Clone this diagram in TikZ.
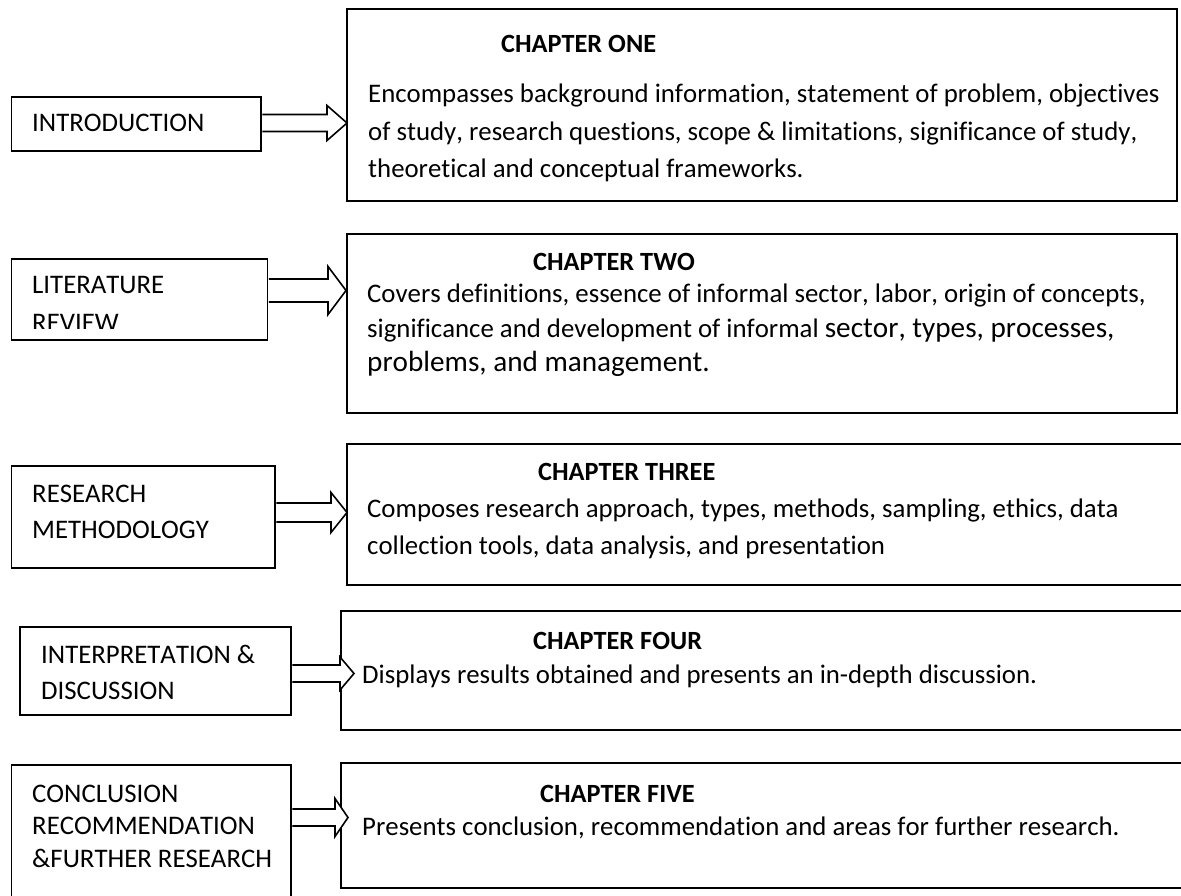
\documentclass[tikz,border=0pt]{standalone}
\usepackage{fontspec}
\setmainfont{Carlito}[Ligatures=NoCommon, Kerning=Off]
\usetikzlibrary{calc}
\tikzset{
  bx/.style={draw=black, line width=1.6pt, fill=white, inner sep=0pt, anchor=north west},
  blk/.style={draw=black, line width=1.6pt, fill=white, line join=miter},
  txt/.style={inner sep=0pt, anchor=base west, text=black, font=\fontsize{26.8}{31}\selectfont},
  big/.style={inner sep=0pt, anchor=base west, text=black, font=\fontsize{29.2}{34}\selectfont},
  hd/.style={inner sep=0pt, anchor=base west, text=black, font=\fontsize{26.3}{31}\selectfont\bfseries}
}
\newcommand{\bigsz}{\fontsize{29.2}{34}\selectfont}
\newcommand{\blkarrow}[5]{\draw[blk] let \p1=(#1.east), \p2=(#2) in
  (\x1+0.8pt,\y2+#3) -- (\x2-#5,\y2+#3) -- (\x2-#5,\y2+#4) -- (\x2,\y2) --
  (\x2-#5,\y2-#4) -- (\x2-#5,\y2-#3) -- (\x1+0.8pt,\y2-#3);}
\begin{document}
\begin{tikzpicture}[x=1pt,y=-1pt]
\useasboundingbox (0,0) rectangle (1181,896);
\clip (0,0) rectangle (1181,896);
\fill[white] (0,0) rectangle (1181,896);

% left boxes
\node[bx, minimum width=249.5pt, minimum height=54pt] (L1) at (10.5,96) {};
\node[bx, minimum width=256pt, minimum height=81pt] (L2) at (10.5,258) {};
\node[bx, minimum width=263.5pt, minimum height=102pt] (L3) at (10.5,465) {};
\node[bx, minimum width=271pt, minimum height=88pt] (L4) at (19,626) {};
\node[bx, minimum width=279.5pt, minimum height=160pt] (L5) at (10.5,764) {};

% right boxes
\node[bx, minimum width=830pt, minimum height=192pt] (R1) at (346,8) {};
\node[bx, minimum width=830pt, minimum height=179pt] (R2) at (346,233) {};
\node[bx, minimum width=860pt, minimum height=141pt] (R3) at (346,443) {};
\node[bx, minimum width=866pt, minimum height=119pt] (R4) at (340,610) {};
\node[bx, minimum width=866pt, minimum height=125pt] (R5) at (340,762) {};

% arrow tips
\coordinate (t1) at (347,123);
\coordinate (t2) at (346,290.5);
\coordinate (t3) at (347,512.5);
\coordinate (t4) at (354,673.5);
\coordinate (t5) at (348,817.5);

\blkarrow{L1}{t1}{8.5pt}{17.5pt}{20pt}
\blkarrow{L2}{t2}{11.5pt}{24pt}{18pt}
\blkarrow{L3}{t3}{9.5pt}{20pt}{16pt}
\blkarrow{L4}{t4}{8.5pt}{16.5pt}{14pt}
\blkarrow{L5}{t5}{8.5pt}{19pt}{13pt}

% left texts
\node[txt] (l1a) at (32,132) {INTRODUCTION};
\node[txt] (l2a) at (32,293) {LITERATURE};
\begin{scope}
\clip (10,258) rectangle (268,328.5);
\node[txt] (l2b) at (32,331) {REVIEW};
\end{scope}
\node[txt] (l3a) at (32,502) {RESEARCH};
\node[txt] (l3b) at (32,538) {METHODOLOGY};
\node[txt] (l4a) at (41,663) {INTERPRETATION \&};
\node[txt] (l4b) at (41,699) {DISCUSSION};
\node[txt] (l5a) at (32,802) {CONCLUSION};
\node[txt] (l5b) at (32,834) {RECOMMENDATION};
\node[txt] (l5c) at (32,867) {\&FURTHER RESEARCH};

% chapter one
\node[hd] (h1) at (501,53) {CHAPTER ONE};
\node[txt] (c1a) at (368,103) {Encompasses background information, statement of problem, objectives};
\node[txt] (c1b) at (368,140.5) {of study, research questions, scope \& limitations, significance of study,};
\node[txt] (c1c) at (368,178) {theoretical and conceptual frameworks.};

% chapter two
\node[hd] (h2) at (533,270) {CHAPTER TWO};
\node[txt] (c2a) at (367,302) {Covers definitions, essence of informal sector, labor, origin of concepts,};
\node[txt] (c2b) at (367,337) {significance and development of informal {\bigsz sector, types, processes,}};
\node[big] (c2d) at (367,371) {problems, and management.};

% chapter three
\node[hd] (h3) at (538,480) {CHAPTER THREE};
\node[txt] (c3a) at (367,517) {Composes research approach, types, methods, sampling, ethics, data};
\node[txt] (c3b) at (367,554) {collection tools, data analysis, and presentation};

% chapter four
\node[hd] (h4) at (533,649) {CHAPTER FOUR};
\node[txt] (c4a) at (362,683) {Displays results obtained and presents an in-depth discussion.};

% chapter five
\node[hd] (h5) at (540,802) {CHAPTER FIVE};
\node[txt] (c5a) at (362,835) {Presents conclusion, recommendation and areas for further research.};
\end{tikzpicture}
\end{document}
